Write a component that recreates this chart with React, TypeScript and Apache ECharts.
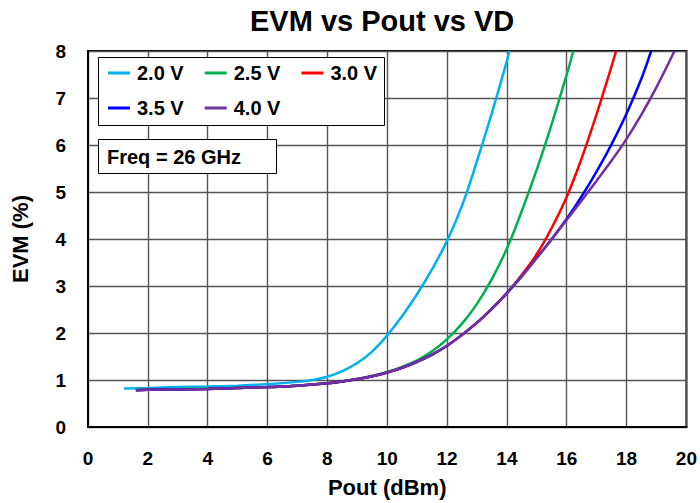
import React, { useEffect, useRef } from "react";
import * as echarts from "echarts";

// Pout (dBm) / EVM (%) per drain voltage
const x20 = [1.2, 2, 3, 4, 5, 6, 7, 7.5, 8, 8.5, 9, 9.5, 10, 10.5, 11, 11.5, 12, 12.5, 13, 13.5, 14, 14.08];
const y20 = [0.82, 0.83, 0.85, 0.86, 0.88, 0.91, 0.96, 1.0, 1.07, 1.19, 1.36, 1.61, 1.95, 2.36, 2.83, 3.36, 3.96, 4.71, 5.66, 6.69, 7.79, 8.0];

const x25 = [1.6, 2, 3, 4, 5, 6, 7, 8, 8.5, 9, 9.5, 10, 10.5, 11, 11.5, 12, 12.5, 13, 13.5, 14, 14.5, 15, 15.5, 16, 16.22];
const y25 = [0.79, 0.8, 0.81, 0.82, 0.83, 0.85, 0.88, 0.93, 0.97, 1.02, 1.09, 1.17, 1.28, 1.42, 1.61, 1.87, 2.2, 2.62, 3.15, 3.8, 4.6, 5.48, 6.45, 7.5, 8.0];

const x30 = [1.6, 2, 3, 4, 5, 6, 7, 8, 8.5, 9, 9.5, 10, 10.5, 11, 11.5, 12, 12.5, 13, 13.5, 14, 14.5, 15, 15.5, 16, 16.5, 17, 17.5, 17.65];
const y30 = [0.78, 0.79, 0.8, 0.81, 0.83, 0.85, 0.88, 0.93, 0.97, 1.02, 1.08, 1.16, 1.26, 1.39, 1.54, 1.73, 1.96, 2.22, 2.52, 2.85, 3.24, 3.68, 4.24, 4.9, 5.72, 6.66, 7.68, 8.0];

const x35 = [1.6, 2, 3, 4, 5, 6, 7, 8, 8.5, 9, 9.5, 10, 10.5, 11, 11.5, 12, 12.5, 13, 13.5, 14, 14.5, 15, 15.5, 16, 16.5, 17, 17.5, 18, 18.5, 18.82];
const y35 = [0.78, 0.79, 0.8, 0.81, 0.83, 0.85, 0.88, 0.93, 0.97, 1.02, 1.08, 1.16, 1.26, 1.39, 1.54, 1.73, 1.96, 2.22, 2.52, 2.85, 3.21, 3.6, 4.0, 4.43, 4.91, 5.44, 6.02, 6.67, 7.42, 8.0];

const x40 = [1.6, 2, 3, 4, 5, 6, 7, 8, 8.5, 9, 9.5, 10, 10.5, 11, 11.5, 12, 12.5, 13, 13.5, 14, 14.5, 15, 15.5, 16, 16.5, 17, 17.5, 18, 18.5, 19, 19.6];
const y40 = [0.78, 0.79, 0.8, 0.81, 0.83, 0.85, 0.88, 0.93, 0.97, 1.02, 1.08, 1.16, 1.26, 1.39, 1.54, 1.73, 1.96, 2.22, 2.52, 2.85, 3.21, 3.6, 4.0, 4.41, 4.82, 5.24, 5.67, 6.13, 6.65, 7.23, 8.0];

const seriesNames = ["2.0 V", "2.5 V", "3.0 V", "3.5 V", "4.0 V"];
const seriesColors = ["#00B0F0", "#00B050", "#FF0000", "#0000FF", "#7030A0"];
const xs = [x20, x25, x30, x35, x40];
const ys = [y20, y25, y30, y35, y40];

const xTicks = [0, 2, 4, 6, 8, 10, 12, 14, 16, 18, 20];
const yTicks = [0, 1, 2, 3, 4, 5, 6, 7, 8];

const titleText = "EVM vs Pout vs VD";
const xName = "Pout (dBm)";
const yName = "EVM (%)";
const noteText = "Freq = 26 GHz";

const FONT = "'Liberation Sans', Arial, sans-serif";

export default function App() {
  const ref = useRef<HTMLDivElement>(null);
  useEffect(() => {
    if (!ref.current) return;
    const chart = echarts.init(ref.current, undefined, { renderer: "svg" });
    const series = seriesNames.map((name, i) => ({
      name,
      type: "line",
      data: xs[i].map((x, j) => [x, ys[i][j]]),
      smooth: 0.4,
      symbol: "none",
      lineStyle: { color: seriesColors[i], width: 2.5 },
      itemStyle: { color: seriesColors[i] },
      z: 2 + i,
    }));
    const legendText = { fontFamily: FONT, fontWeight: "bold", fontSize: 20, color: "#000", lineHeight: 24, padding: [0, 0, 0, 2] };
    const legendBase = {
      left: 108,
      padding: 0,
      icon: "rect",
      itemWidth: 22,
      itemHeight: 3,
      itemGap: 21,
      textStyle: legendText,
    };
    chart.setOption({
      animation: false,
      textStyle: { fontFamily: FONT },
      title: {
        text: titleText,
        left: 250,
        top: 6,
        padding: 0,
        textStyle: { fontFamily: FONT, fontWeight: "bold", fontSize: 29, color: "#000" },
      },
      grid: { left: 88, right: 12, top: 51, bottom: 75, show: true, borderColor: "#000", borderWidth: 2, backgroundColor: "#fff" },
      legend: [
        { ...legendBase, data: seriesNames.slice(0, 3), top: 61 },
        { ...legendBase, data: seriesNames.slice(3), top: 96 },
      ],
      graphic: [
        {
          type: "rect",
          z: 3,
          shape: { x: 98.5, y: 57.5, width: 286, height: 68 },
          style: { fill: "#fff", stroke: "#000", lineWidth: 1 },
        },
        {
          type: "rect",
          z: 3,
          shape: { x: 98.5, y: 139.5, width: 178, height: 34 },
          style: { fill: "#fff", stroke: "#000", lineWidth: 1 },
        },
        {
          type: "text",
          z: 4,
          x: 107,
          y: 157,
          style: { text: noteText, font: `bold 20px ${FONT}`, fill: "#000", textVerticalAlign: "middle", verticalAlign: "middle" },
        },
      ],
      xAxis: {
        type: "value",
        min: xTicks[0],
        max: xTicks[xTicks.length - 1],
        interval: 2,
        name: xName,
        nameLocation: "middle",
        nameGap: 49,
        nameTextStyle: { fontFamily: FONT, fontWeight: "bold", fontSize: 22, color: "#000" },
        axisLine: { show: true, lineStyle: { color: "#000", width: 2 } },
        axisTick: { show: false },
        axisLabel: { fontFamily: FONT, fontWeight: "bold", fontSize: 19, color: "#000", margin: 22 },
        splitLine: { show: true, lineStyle: { color: "#555", width: 1.4 } },
      },
      yAxis: {
        type: "value",
        min: yTicks[0],
        max: yTicks[yTicks.length - 1],
        interval: 1,
        name: yName,
        nameLocation: "middle",
        nameGap: 57,
        nameTextStyle: { fontFamily: FONT, fontWeight: "bold", fontSize: 22, color: "#000" },
        axisLine: { show: true, lineStyle: { color: "#000", width: 2 } },
        axisTick: { show: false },
        axisLabel: { fontFamily: FONT, fontWeight: "bold", fontSize: 19, color: "#000", margin: 22 },
        splitLine: { show: true, lineStyle: { color: "#555", width: 1.4 } },
      },
      series,
    });
    return () => chart.dispose();
  }, []);
  return <div ref={ref} style={{ width: 700, height: 503, position: "absolute", left: 0, top: 0 }} />;
}
